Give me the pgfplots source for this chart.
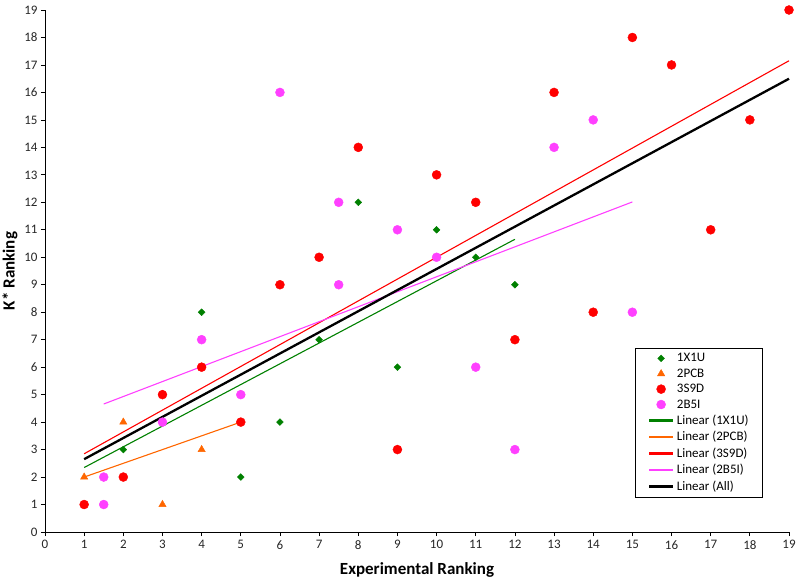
\documentclass[border=0pt]{standalone}
\usepackage{pgfplots}
\usepackage{pgfplotstable}
\pgfplotsset{compat=1.18}
\usepackage{fontspec}
\setmainfont{Carlito}

\definecolor{cgreen}{RGB}{0,128,0}
\definecolor{corange}{RGB}{255,102,0}
\definecolor{cred}{RGB}{255,0,0}
\definecolor{cmag}{RGB}{255,64,255}

\pgfplotstableread{
x y
1 1
2 3
3 5
4 8
5 2
6 4
7 7
8 12
9 6
10 11
11 10
12 9
}\tabA
\pgfplotstableread{
x y
1 2
2 4
3 1
4 3
5 5
}\tabB
\pgfplotstableread{
x y
1 1
2 2
3 5
4 6
5 4
6 9
7 10
8 14
9 3
10 13
11 12
12 7
13 16
14 8
15 18
16 17
17 11
18 15
19 19
}\tabC
\pgfplotstableread{
x y
1.5 1
1.5 2
3 4
4 7
5 5
6 16
7.5 12
7.5 9
9 11
10 10
11 6
12 3
13 14
14 15
15 8
}\tabD
\pgfplotstableread{
x y
1 1
2 3
3 5
4 8
5 2
6 4
7 7
8 12
9 6
10 11
11 10
12 9
1 2
2 4
3 1
4 3
5 5
1 1
2 2
3 5
4 6
5 4
6 9
7 10
8 14
9 3
10 13
11 12
12 7
13 16
14 8
15 18
16 17
17 11
18 15
19 19
1.5 1
1.5 2
3 4
4 7
5 5
6 16
7.5 12
7.5 9
9 11
10 10
11 6
12 3
13 14
14 15
15 8
}\tabAll

\begin{document}
\begin{tikzpicture}
\useasboundingbox (-45bp,-51bp) rectangle (755bp,532bp);
\begin{axis}[
  at={(0,0)}, anchor=south west,
  scale only axis,
  width=744bp, height=522bp,
  xmin=0, xmax=19, ymin=0, ymax=19,
  xtick={0,1,...,19}, ytick={0,1,...,19},
  axis lines=left,
  axis line style={-, black, line width=0.9bp},
  tick align=outside,
  major tick length=4bp,
  tick style={black, line width=0.7bp},
  /pgf/number format/assume math mode=true,
  ticklabel style={font=\fontsize{13bp}{15bp}\selectfont, text=black!85},
  xticklabel style={yshift=-1bp},
  xlabel={\textbf{Experimental Ranking}},
  ylabel={\textbf{K* Ranking}},
  label style={font=\fontsize{17bp}{20bp}\selectfont},
  xlabel style={at={(axis description cs:0.5,-0.0728)}, anchor=center},
  ylabel style={at={(axis description cs:-0.0470,0.5)}, anchor=center},
  clip=false,
  legend style={at={(0.965,0.3525)}, anchor=north east, draw=black, line width=0.8bp,
    font=\fontsize{13bp}{14bp}\selectfont, cells={anchor=west}, row sep=1.5bp,
    inner xsep=12bp, inner ysep=3bp},
  legend image code/.code={\draw[mark repeat=2,mark phase=2,line width=\pgflinewidth+0.7bp] plot coordinates {(0bp,0bp) (12bp,0bp) (24bp,0bp)};},
]
\addplot[only marks, mark=square*, mark size=2.4bp, mark options={rotate=45, fill=cgreen, draw=cgreen, line width=0.4bp}] table {\tabA};
\addlegendentry{1X1U}
\addplot[only marks, mark=triangle*, mark size=4.2bp, mark options={fill=corange, draw=corange, line width=0.4bp}] table {\tabB};
\addlegendentry{2PCB}
\addplot[only marks, mark=*, mark size=4.5bp, mark options={fill=cred, draw=cred, line width=0.4bp}] table {\tabC};
\addlegendentry{3S9D}
\addplot[only marks, mark=*, mark size=4.5bp, mark options={fill=cmag, draw=cmag, line width=0.4bp}] table {\tabD};
\addlegendentry{2B5I}
\addplot[no marks, cgreen, line width=1.1bp] table[y={create col/linear regression={y=y}}] {\tabA};
\addlegendentry{Linear (1X1U)}
\addplot[no marks, corange, line width=1.1bp] table[y={create col/linear regression={y=y}}] {\tabB};
\addlegendentry{Linear (2PCB)}
\addplot[no marks, cred, line width=1.1bp] table[y={create col/linear regression={y=y}}] {\tabC};
\addlegendentry{Linear (3S9D)}
\addplot[no marks, cmag, line width=1.1bp] table[y={create col/linear regression={y=y}}] {\tabD};
\addlegendentry{Linear (2B5I)}
\addplot[no marks, black, line width=2.3bp] table[y={create col/linear regression={y=y}}] {\tabAll};
\addlegendentry{Linear (All)}
\end{axis}
\end{tikzpicture}
\end{document}
